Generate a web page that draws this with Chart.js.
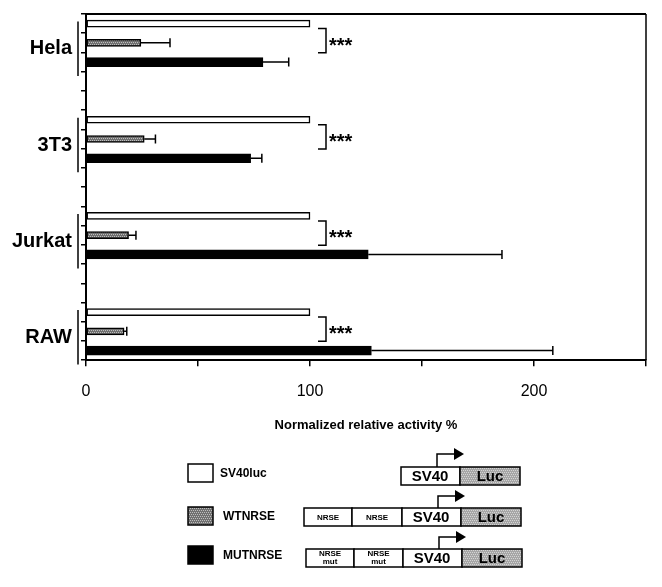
<!DOCTYPE html>
<html>
<head>
<meta charset="utf-8">
<title>Normalized relative activity</title>
<script src="https://cdn.jsdelivr.net/npm/chart.js@4.4.1/dist/chart.umd.min.js"></script>
<style>
    html, body { margin: 0; padding: 0; background: #fff; }
    canvas { display: block; }
</style>
</head>
<body>
<canvas id="activityChart" width="662" height="587"></canvas>
<script>
// Cell lines and measured values (% of SV40luc)
const cells = ['Hela', '3T3', 'Jurkat', 'RAW'];
const seriesNames = ['SV40luc', 'WTNRSE', 'MUTNRSE'];
const sv40luc = [100, 100, 100, 100];
const wtnrse = [24.5, 26, 19, 17];
const wtnrseErr = [13, 5, 3.3, 1.2];
const mutnrse = [79, 73.5, 126, 127.4];
const mutnrseErr = [11.5, 5, 59.7, 81];
const xTickLabels = [0, 100, 200];
const significance = ['***', '***', '***', '***'];

// 3 bar slots per cell line plus 2 empty slots between groups
const slotsPerGroup = 5;
const slotLabels = [];
cells.forEach((c, i) => {
    seriesNames.forEach(s => slotLabels.push(c + ' ' + s));
    if (i < cells.length - 1) slotLabels.push('', '');
});

function spread(values, pos) {
    const out = slotLabels.map(() => null);
    values.forEach((v, i) => { out[i * slotsPerGroup + pos] = v; });
    return out;
}

function stipple(bg, dot) {
    const c = document.createElement('canvas');
    c.width = 4; c.height = 4;
    const g = c.getContext('2d');
    g.fillStyle = bg; g.fillRect(0, 0, 4, 4);
    g.fillStyle = dot;
    g.fillRect(0, 0, 1, 1);
    g.fillRect(2, 0, 1, 1);
    g.fillRect(1, 2, 1, 1);
    g.fillRect(3, 2, 1, 1);
    return g.createPattern(c, 'repeat');
}

const greyFill = stipple('#707070', '#bdbdbd');
const lucFill = stipple('#a6a6a6', '#d4d4d4');
const FONT = '"Liberation Sans", Arial, Helvetica, sans-serif';
Chart.defaults.font.family = FONT;
Chart.defaults.color = '#000';

// Frame, group labels, error bars, significance marks and the construct legend
const decorations = {
    id: 'decorations',
    afterDatasetsDraw(chart) {
        const ctx = chart.ctx;
        const area = chart.chartArea;
        const xs = chart.scales.x;
        const ys = chart.scales.y;
        ctx.save();
        ctx.strokeStyle = '#000';
        ctx.fillStyle = '#000';

        // top and right frame
        ctx.lineWidth = 2;
        ctx.beginPath();
        ctx.moveTo(area.left, area.top);
        ctx.lineTo(area.right, area.top);
        ctx.stroke();
        ctx.lineWidth = 1.5;
        ctx.beginPath();
        ctx.moveTo(area.right, area.top);
        ctx.lineTo(area.right, area.bottom);
        ctx.stroke();

        // error bars (upper side only)
        const errs = [null, wtnrseErr, mutnrseErr];
        const means = [sv40luc, wtnrse, mutnrse];
        ctx.lineWidth = 1.5;
        [1, 2].forEach(d => {
            const meta = chart.getDatasetMeta(d);
            cells.forEach((c, i) => {
                const bar = meta.data[i * slotsPerGroup + d];
                const x0 = xs.getPixelForValue(means[d][i]);
                const x1 = xs.getPixelForValue(means[d][i] + errs[d][i]);
                ctx.beginPath();
                ctx.moveTo(x0, bar.y);
                ctx.lineTo(x1, bar.y);
                ctx.moveTo(x1, bar.y - 4.5);
                ctx.lineTo(x1, bar.y + 4.5);
                ctx.stroke();
            });
        });

        cells.forEach((c, i) => {
            const y0 = ys.getPixelForValue(i * slotsPerGroup);
            const y1 = ys.getPixelForValue(i * slotsPerGroup + 1);
            const y2 = ys.getPixelForValue(i * slotsPerGroup + 2);

            // group bracket and label on the left
            const top = y0 - 2, bottom = y2 + 14;
            ctx.lineWidth = 1.5;
            ctx.beginPath();
            ctx.moveTo(78, top);
            ctx.lineTo(78, bottom);
            ctx.stroke();
            ctx.font = 'bold 20px ' + FONT;
            ctx.textAlign = 'right';
            ctx.textBaseline = 'middle';
            ctx.fillText(c, 72, (top + bottom) / 2);

            // significance bracket
            const bx = xs.getPixelForValue(sv40luc[i]);
            const t = y0 + 5, b = y1 + 10;
            ctx.beginPath();
            ctx.moveTo(bx + 8, t);
            ctx.lineTo(bx + 16, t);
            ctx.lineTo(bx + 16, b);
            ctx.lineTo(bx + 8, b);
            ctx.stroke();
            ctx.font = 'bold 20px ' + FONT;
            ctx.textAlign = 'left';
            ctx.textBaseline = 'alphabetic';
            ctx.fillText(significance[i], bx + 19, (t + b) / 2 + 11);
        });

        drawLegend(ctx);
        ctx.restore();
    }
};

function box(ctx, x, y, w, h, fill) {
    ctx.fillStyle = fill;
    ctx.fillRect(x, y, w, h);
    ctx.lineWidth = 1.5;
    ctx.strokeStyle = '#000';
    ctx.strokeRect(x, y, w, h);
}

function label(ctx, text, x, y, size) {
    ctx.fillStyle = '#000';
    ctx.font = 'bold ' + size + 'px ' + FONT;
    ctx.textAlign = 'center';
    ctx.textBaseline = 'middle';
    ctx.fillText(text, x, y);
}

function promoterArrow(ctx, x, boxTop, arrowY) {
    ctx.lineWidth = 1.5;
    ctx.beginPath();
    ctx.moveTo(x, boxTop);
    ctx.lineTo(x, arrowY);
    ctx.lineTo(x + 20, arrowY);
    ctx.stroke();
    ctx.beginPath();
    ctx.moveTo(x + 27, arrowY);
    ctx.lineTo(x + 17, arrowY - 6);
    ctx.lineTo(x + 17, arrowY + 6);
    ctx.closePath();
    ctx.fill();
}

function drawLegend(ctx) {
    const fills = ['#fff', greyFill, '#000'];
    const rows = [
        { boxY: 464, textX: 220, construct: { y: 467, arrowY: 454, parts: [] } },
        { boxY: 507, textX: 223, construct: { y: 508, arrowY: 496, parts: [[304, 352, ['NRSE']], [352, 402, ['NRSE']]] } },
        { boxY: 546, textX: 223, construct: { y: 549, arrowY: 537, parts: [[306, 354, ['NRSE', 'mut']], [354, 403, ['NRSE', 'mut']]] } }
    ];
    rows.forEach((r, i) => {
        box(ctx, 188, r.boxY, 25, 18, fills[i]);
        ctx.fillStyle = '#000';
        ctx.font = 'bold 12px ' + FONT;
        ctx.textAlign = 'left';
        ctx.textBaseline = 'middle';
        ctx.fillText(seriesNames[i], r.textX, r.boxY + 10);

        const k = r.construct;
        const h = 18;
        k.parts.forEach(p => {
            box(ctx, p[0], k.y, p[1] - p[0], h, '#fff');
            if (p[2].length === 1) {
                label(ctx, p[2][0], (p[0] + p[1]) / 2, k.y + h / 2 + 1, 8);
            } else {
                label(ctx, p[2][0], (p[0] + p[1]) / 2, k.y + 5, 8);
                label(ctx, p[2][1], (p[0] + p[1]) / 2, k.y + 13, 8);
            }
        });
        const sx = i === 0 ? 401 : (i === 1 ? 402 : 403);
        box(ctx, sx, k.y, 59, h, '#fff');
        label(ctx, 'SV40', sx + 29, k.y + h / 2 + 1, 15);
        box(ctx, sx + 59, k.y, 60, h, lucFill);
        label(ctx, 'Luc', sx + 89, k.y + h / 2 + 1, 15);
        ctx.fillStyle = '#000';
        promoterArrow(ctx, sx + 36, k.y, k.arrowY);
    });
}

const ctx = document.getElementById('activityChart').getContext('2d');
new Chart(ctx, {
    type: 'bar',
    data: {
        labels: slotLabels,
        datasets: [
            {
                label: seriesNames[0],
                data: spread(sv40luc, 0),
                backgroundColor: '#fff',
                borderColor: '#000',
                borderWidth: 1.5,
                borderSkipped: false,
                barThickness: 7,
                grouped: false
            },
            {
                label: seriesNames[1],
                data: spread(wtnrse, 1),
                backgroundColor: greyFill,
                borderColor: '#000',
                borderWidth: 1.5,
                borderSkipped: false,
                barThickness: 7,
                grouped: false
            },
            {
                label: seriesNames[2],
                data: spread(mutnrse, 2),
                backgroundColor: '#000',
                borderColor: '#000',
                borderWidth: 1,
                barThickness: 9,
                grouped: false
            }
        ]
    },
    options: {
        indexAxis: 'y',
        responsive: false,
        animation: false,
        layout: { padding: { left: 81, top: 14, right: 12, bottom: 154 } },
        scales: {
            x: {
                min: 0,
                max: 250,
                ticks: {
                    stepSize: 50,
                    autoSkip: false,
                    maxRotation: 0,
                    padding: 16,
                    color: '#000',
                    font: { size: 16 },
                    callback: v => xTickLabels.includes(v) ? String(v) : ''
                },
                grid: { drawOnChartArea: false, tickLength: 6, color: '#000', lineWidth: 1.5 },
                border: { color: '#000', width: 2 },
                title: {
                    display: true,
                    text: 'Normalized relative activity %',
                    color: '#000',
                    font: { size: 13, weight: 'bold' },
                    padding: { top: 0, bottom: 0 }
                }
            },
            y: {
                type: 'category',
                ticks: { display: false },
                grid: { drawOnChartArea: false, offset: true, tickLength: 5, color: '#000', lineWidth: 1.5 },
                border: { color: '#000', width: 2 }
            }
        },
        plugins: {
            legend: { display: false },
            tooltip: { enabled: false }
        }
    },
    plugins: [decorations]
});
</script>
</body>
</html>
